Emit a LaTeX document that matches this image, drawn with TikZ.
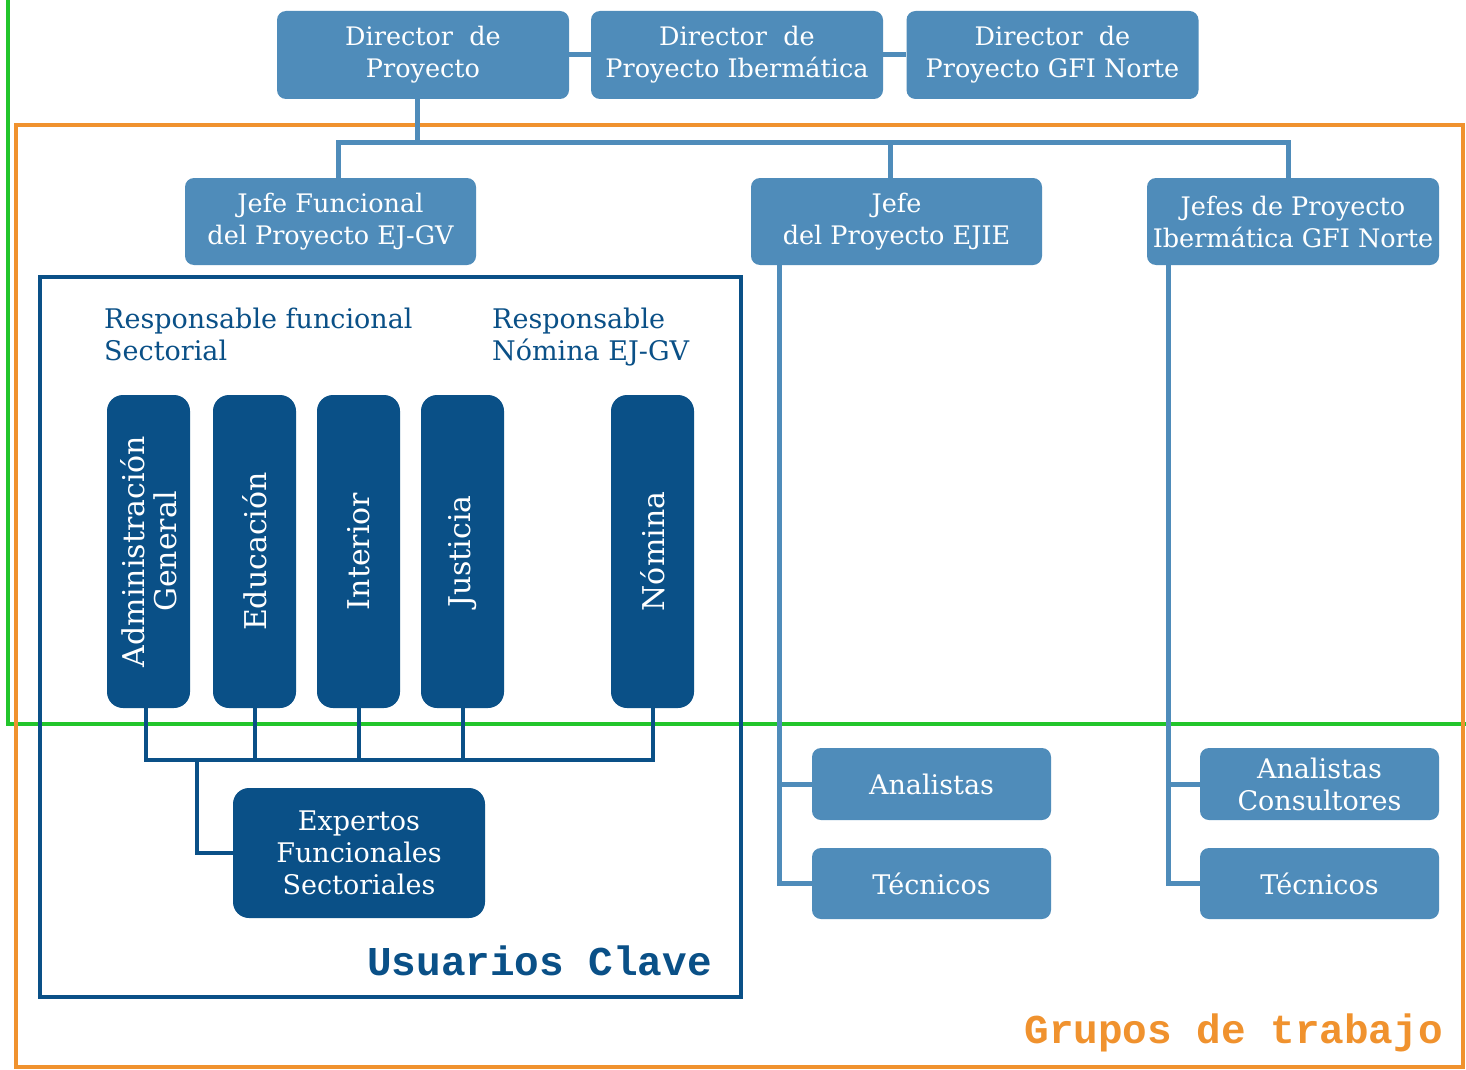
\documentclass[tikz,border=0pt]{standalone}
\usepackage{fontspec}
\setmainfont{DejaVu Serif}
\newfontfamily\monof{Liberation Mono}
\definecolor{lb}{RGB}{79,140,186}
\definecolor{db}{RGB}{10,80,135}
\definecolor{gr}{RGB}{34,197,43}
\definecolor{orng}{RGB}{240,146,46}
\begin{document}
\begin{tikzpicture}[x=1pt,y=-1pt,
  lbox/.style={rectangle, rounded corners=9pt, fill=lb, text=white, align=center,
    font=\fontsize{25.5}{32}\selectfont, inner sep=0pt},
  sbox/.style={lbox, font=\fontsize{27}{32}\selectfont},
  dbox/.style={rectangle, rounded corners=16pt, fill=db, text=white, align=center,
    font=\fontsize{27}{32}\selectfont, inner sep=0pt},
  vbox/.style={dbox, rotate=90, minimum width=313pt, minimum height=83pt,
    font=\fontsize{30}{32}\selectfont},
  lline/.style={draw=lb, line width=5pt},
  dline/.style={draw=db, line width=4pt},
  lab/.style={text=db, align=left, anchor=north west, inner sep=0pt,
    font=\fontsize{27}{32}\selectfont}]
\useasboundingbox (0,0) rectangle (1466,1070);
\fill[white] (0,0) rectangle (1466,1070);
% frames
\draw[gr, line width=4pt] (8,-10) -- (8,724) -- (1480,724);
\draw[orng, line width=4pt] (16,125) rectangle (1463,1067);
% top row
\node[lbox, minimum width=292pt, minimum height=88pt] (dp) at (423,55) {Director\ \ de\\Proyecto};
\node[lbox, minimum width=292pt, minimum height=88pt] (dpi) at (737,55) {Director\ \ de\\Proyecto Ibermática};
\node[lbox, minimum width=292pt, minimum height=88pt] (dpg) at (1052.5,55) {Director\ \ de\\Proyecto GFI Norte};
\draw[lline] (dp.east) -- (dpi.west);
\draw[lline] (dpi.east) -- (dpg.west);
% second row
\node[lbox, minimum width=291pt, minimum height=87pt] (jf) at (330.5,221.5) {Jefe Funcional\\del Proyecto EJ-GV};
\node[lbox, minimum width=291pt, minimum height=87pt] (je) at (896.5,221.5) {Jefe\\del Proyecto EJIE};
\node[lbox, minimum width=292pt, minimum height=87pt] (jp) at (1293,221.5) {Jefes de Proyecto\\Ibermática GFI Norte};
\coordinate (bus) at (417,142);
\draw[lline] (dp.south -| bus) -- (bus);
\draw[lline] ([xshift=8pt]jf.north) -- ([xshift=8pt]jf.north |- bus) -- ([xshift=-5pt]jp.north |- bus) -- ([xshift=-5pt]jp.north);
\draw[lline] ([xshift=-6pt]je.north) -- ([xshift=-6pt]je.north |- bus);
% Usuarios clave frame
\node[draw=db, line width=4pt, minimum width=701pt, minimum height=720pt, inner sep=0pt] (uc) at (390.5,637) {};
\node[lab] (rs) at (104,308) {Responsable funcional\\Sectorial};
\node[lab] (rn) at (492,308) {Responsable\\Nómina EJ-GV};
\node[vbox] (ag) at (148.5,551.5) {Administración\\General};
\node[vbox] (ed) at (254.5,551.5) {Educación};
\node[vbox] (in) at (358.5,551.5) {Interior};
\node[vbox] (ju) at (462.5,551.5) {Justicia};
\node[vbox] (nm) at (652.5,551.5) {Nómina};
\node[dbox, minimum width=252pt, minimum height=130pt] (ex) at (359,853) {Expertos\\Funcionales\\Sectoriales};
\coordinate (dbus) at (0,760);
\coordinate (exb) at (197,760);
\draw[dline] ([xshift=-3pt]ag.west) -- ([xshift=-3pt]ag.west |- dbus) -- (nm.west |- dbus) -- (nm.west);
\draw[dline] (ed.west) -- (ed.west |- dbus);
\draw[dline] (in.west) -- (in.west |- dbus);
\draw[dline] (ju.west) -- (ju.west |- dbus);
\draw[dline] (exb) |- (ex.west);
\node[text=db, font=\monof\bfseries\fontsize{41}{41}\selectfont, anchor=base east, inner sep=0pt] (ucl) at (712,975) {Usuarios Clave};
% groups
\node[sbox, minimum width=239pt, minimum height=72pt] (an1) at (931.5,784) {Analistas};
\node[sbox, minimum width=239pt, minimum height=71pt] (tc1) at (931.5,883.5) {Técnicos};
\node[sbox, minimum width=239pt, minimum height=72pt] (an2) at (1319.5,784) {Analistas\\Consultores};
\node[sbox, minimum width=239pt, minimum height=71pt] (tc2) at (1319.5,883.5) {Técnicos};
\coordinate (v1) at (779,265);
\coordinate (v2) at (1168,265);
\draw[lline] (je.south -| v1) |- (tc1.west);
\draw[lline] (an1.west) -- (an1.west -| v1);
\draw[lline] (jp.south -| v2) |- (tc2.west);
\draw[lline] (an2.west) -- (an2.west -| v2);
\node[text=orng, font=\monof\bfseries\fontsize{41}{41}\selectfont, anchor=base east, inner sep=0pt] (gt) at (1443,1043) {Grupos de trabajo};
\end{tikzpicture}
\end{document}
